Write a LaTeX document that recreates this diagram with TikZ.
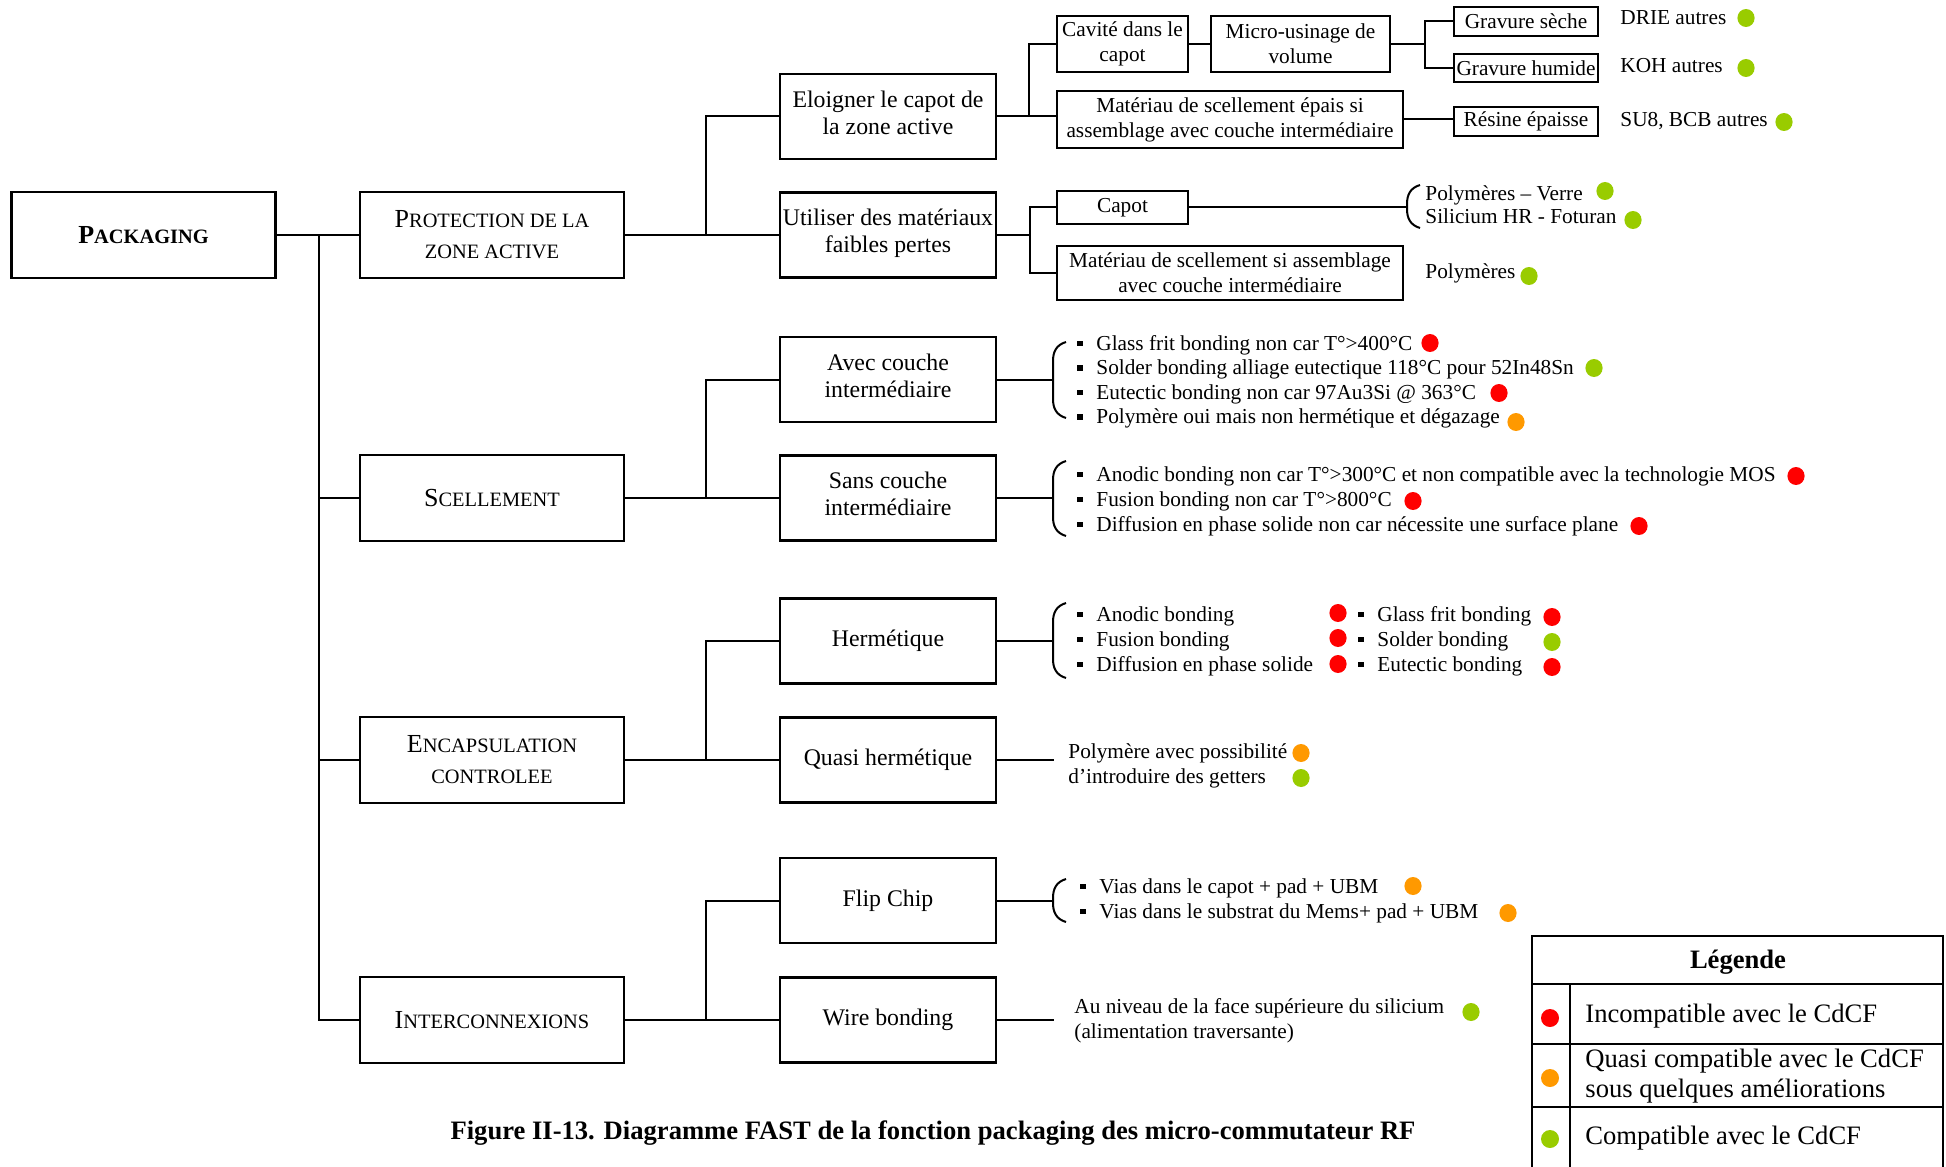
\documentclass[tikz,border=0pt]{standalone}
\usepackage{fontspec}
\setmainfont{Liberation Serif}
\usetikzlibrary{calc}
\definecolor{cred}{RGB}{255,0,0}
\definecolor{cgreen}{RGB}{153,204,0}
\definecolor{corange}{RGB}{255,153,0}
\newcommand\sca[1]{{\fontsize{10.2pt}{12pt}\selectfont #1}}
\newcommand\dotc[3]{\fill[#1] (#2,#3) ellipse [x radius=4.3pt, y radius=4.5pt];}
\newcommand\mybrace[3]{\draw[conn] ({#1+13},#2) .. controls ({#1+3},{#2+3}) and (#1,{#2+10}) .. (#1,{#2+19}) -- (#1,{#3-19}) .. controls (#1,{#3-10}) and ({#1+3},{#3-3}) .. ({#1+13},#3);}
\newcommand\bitem[4]{\node[txt] (#1) at (#2,#3) {#4};
  \fill ($(#1.west)+(-19,-4.5)$) rectangle ++(5.5,5.5);}
\begin{document}
\begin{tikzpicture}[x=0.5pt,y=-0.5pt,
  box/.style={draw, line width=1.2pt, inner sep=0pt, align=center},
  lvl1/.style={box, minimum width=132pt, minimum height=43pt, font=\fontsize{13pt}{15.5pt}\selectfont},
  lvl2/.style={box, minimum width=108pt, minimum height=42.5pt, font=\fontsize{11.9pt}{13.5pt}\selectfont},
  two/.style={text depth=4pt},
  lvl3/.style={box, font=\fontsize{10.65pt}{12.4pt}\selectfont},
  txt/.style={inner sep=0pt, anchor=west, font=\fontsize{10.65pt}{12.4pt}\selectfont, text height=7.3pt, text depth=2.3pt},
  conn/.style={line width=1pt},
  leg/.style={inner sep=0pt, font=\fontsize{13.3pt}{15pt}\selectfont, align=left},
]
\fill[white] (0,0) rectangle (1946,1166);
\useasboundingbox (0,0) rectangle (1946,1166);

% level 1
\node[lvl1, font=\bfseries\fontsize{13pt}{15.5pt}\selectfont] (pack) at (143.5,235) {P\sca{ACKAGING}};
\node[lvl1] (prot) at (492,235) {P\sca{ROTECTION DE LA}\\\sca{ZONE ACTIVE}};
\node[lvl1] (scel) at (492,498) {S\sca{CELLEMENT}};
\node[lvl1] (enc) at (492,760) {E\sca{NCAPSULATION}\\\sca{CONTROLEE}};
\node[lvl1] (inter) at (492,1020) {I\sca{NTERCONNEXIONS}};

% level 2
\node[lvl2, two] (elo) at (888,116.5) {Eloigner le capot de\\la zone active};
\node[lvl2, two] (util) at (888,235) {Utiliser des matériaux\\faibles pertes};
\node[lvl2, two] (avec) at (888,379.5) {Avec couche\\intermédiaire};
\node[lvl2, two] (sans) at (888,498) {Sans couche\\intermédiaire};
\node[lvl2] (herm) at (888,641) {Hermétique};
\node[lvl2] (quasi) at (888,760) {Quasi hermétique};
\node[lvl2] (flip) at (888,900.5) {Flip Chip};
\node[lvl2] (wire) at (888,1020) {Wire bonding};

% level 3
\node[lvl3, minimum width=65.5pt, minimum height=28pt] (cav) at (1122.5,44) {Cavité dans le\\capot};
\node[lvl3, minimum width=89.5pt, minimum height=28pt] (micro) at (1300.5,44) {Micro-usinage de\\volume};
\node[lvl3, minimum width=72pt, minimum height=14.5pt] (gs) at (1526,21.5) {Gravure sèche};
\node[lvl3, minimum width=72pt, minimum height=14pt] (gh) at (1526,68) {Gravure humide};
\node[lvl3, minimum width=173pt, minimum height=28.5pt] (mat1) at (1230,119.5) {Matériau de scellement épais si\\assemblage avec couche intermédiaire};
\node[lvl3, minimum width=72pt, minimum height=14.5pt] (res) at (1526,121.5) {Résine épaisse};
\node[lvl3, minimum width=65.5pt, minimum height=16.5pt] (capot) at (1122.5,207.5) {Capot};
\node[lvl3, minimum width=173pt, minimum height=27pt] (mat2) at (1230,273) {Matériau de scellement si assemblage\\avec couche intermédiaire};

% connectors level 0-1
\coordinate (jm) at (319,235);
\draw[conn] (pack.east) -- (prot.west);
\draw[conn] (jm) |- (scel.west);
\draw[conn] (jm) |- (enc.west);
\draw[conn] (jm) |- (inter.west);

% connectors level 1-2
\coordinate (jp) at (706,235);
\draw[conn] (prot.east) -- (util.west);
\draw[conn] (jp) |- (elo.west);
\coordinate (js) at (706,498);
\draw[conn] (scel.east) -- (sans.west);
\draw[conn] (js) |- (avec.west);
\coordinate (je) at (706,760);
\draw[conn] (enc.east) -- (quasi.west);
\draw[conn] (je) |- (herm.west);
\coordinate (ji) at (706,1020);
\draw[conn] (inter.east) -- (wire.west);
\draw[conn] (ji) |- (flip.west);

% connectors level 2-3
\coordinate (jelo) at ($(elo.east)+(32,0)$);
\draw[conn] (elo.east) -- (elo.east -| mat1.west);
\draw[conn] (jelo) |- (cav.west);
\draw[conn] (cav.east) -- (micro.west);
\coordinate (jmic) at ($(micro.east)+(34,0)$);
\draw[conn] (micro.east) -- (jmic);
\draw[conn] (jmic) |- (gs.west);
\draw[conn] (jmic) |- (gh.west);
\draw[conn] (mat1.east) -- (mat1.east -| res.west);
\coordinate (jut) at ($(util.east)+(33,0)$);
\draw[conn] (util.east) -- (jut);
\draw[conn] (jut) |- (capot.west);
\draw[conn] (jut) |- (mat2.west);
\coordinate (bcap) at (1407,207.5);
\draw[conn] (capot.east) -- (bcap);
\mybrace{1407}{185}{228}

\coordinate (bav) at ($(avec.east)+(57,0)$);
\draw[conn] (avec.east) -- (bav);
\mybrace{1053}{342}{418}
\coordinate (bsa) at ($(sans.east)+(57,0)$);
\draw[conn] (sans.east) -- (bsa);
\mybrace{1053}{461}{536}
\coordinate (bhe) at ($(herm.east)+(57,0)$);
\draw[conn] (herm.east) -- (bhe);
\mybrace{1053}{603}{678}
\coordinate (bqu) at ($(quasi.east)+(57,0)$);
\draw[conn] (quasi.east) -- (bqu);
\coordinate (bfl) at ($(flip.east)+(57,0)$);
\draw[conn] (flip.east) -- (bfl);
\mybrace{1053}{879}{922}
\coordinate (bwi) at ($(wire.east)+(57,0)$);
\draw[conn] (wire.east) -- (bwi);

% right texts
\node[txt] (drie) at (1620,20) {DRIE autres};
\node[txt] (koh) at (1620,68) {KOH autres};
\node[txt] (su8) at (1620,122) {SU8, BCB autres};
\node[txt] (pv) at (1425,195) {Polymères – Verre};
\node[txt] (sil) at (1425,219) {Silicium HR - Foturan};
\node[txt] (pol) at (1425,273) {Polymères};
\dotc{cgreen}{1746}{18}
\dotc{cgreen}{1746}{68}
\dotc{cgreen}{1784}{122}
\dotc{cgreen}{1605}{191}
\dotc{cgreen}{1633}{220}
\dotc{cgreen}{1529}{276}

% avec couche
\bitem{a1}{1096}{345}{Glass frit bonding non car T°>400°C}
\bitem{a2}{1096}{369.5}{Solder bonding alliage eutectique 118°C pour 52In48Sn}
\bitem{a3}{1096}{394}{Eutectic bonding non car 97Au3Si @ 363°C}
\bitem{a4}{1096}{418.5}{Polymère oui mais non hermétique et dégazage}
\dotc{cred}{1430}{343}
\dotc{cgreen}{1594}{368}
\dotc{cred}{1499}{393}
\dotc{corange}{1516}{422}

% sans couche
\bitem{s1}{1096}{476}{Anodic bonding non car T°>300°C et non compatible avec la technologie MOS}
\bitem{s2}{1096}{501}{Fusion bonding non car T°>800°C}
\bitem{s3}{1096}{526}{Diffusion en phase solide non car nécessite une surface plane}
\dotc{cred}{1796}{476}
\dotc{cred}{1413}{501}
\dotc{cred}{1639}{526}

% hermetique
\bitem{h1}{1096}{616}{Anodic bonding}
\bitem{h2}{1096}{641}{Fusion bonding}
\bitem{h3}{1096}{666}{Diffusion en phase solide}
\bitem{h4}{1377}{616}{Glass frit bonding}
\bitem{h5}{1377}{641}{Solder bonding}
\bitem{h6}{1377}{666}{Eutectic bonding}
\dotc{cred}{1338}{613}
\dotc{cred}{1338}{638}
\dotc{cred}{1338}{664}
\dotc{cred}{1552}{617}
\dotc{cgreen}{1552}{642}
\dotc{cred}{1552}{667}

% quasi
\node[txt] (q1) at (1068,753) {Polymère avec possibilité};
\node[txt] (q2) at (1068,778) {d’introduire des getters};
\dotc{corange}{1301}{753}
\dotc{cgreen}{1301}{778}

% flip chip
\bitem{f1}{1099}{888}{Vias dans le capot + pad + UBM}
\bitem{f2}{1099}{913}{Vias dans le substrat du Mems+ pad + UBM}
\dotc{corange}{1413}{886}
\dotc{corange}{1508}{913}

% wire bonding
\node[txt] (w1) at (1074,1008) {Au niveau de la face supérieure du silicium};
\node[txt] (w2) at (1074,1033) {(alimentation traversante)};
\dotc{cgreen}{1471}{1012}

% caption
\node[inner sep=0pt, font=\bfseries\fontsize{13.3pt}{15pt}\selectfont] (cap) at (933,1133) {Figure II-13. Diagramme FAST de la fonction packaging des micro-commutateur RF};

% legend
\draw[line width=1.2pt] (1532,1180) -- (1532,936) -- (1943,936) -- (1943,1180);
\draw[line width=1.2pt] (1532,984) -- (1943,984);
\draw[line width=1.2pt] (1532,1044) -- (1943,1044);
\draw[line width=1.2pt] (1532,1107) -- (1943,1107);
\draw[line width=1.2pt] (1570,984) -- (1570,1180);
\node[leg, font=\bfseries\fontsize{13.3pt}{15pt}\selectfont] (legt) at (1738,962) {Légende};
\node[leg, anchor=west] (l1) at (1585,1016) {Incompatible avec le CdCF};
\node[leg, anchor=west] (l2) at (1585,1076) {Quasi compatible avec le CdCF\\sous quelques améliorations};
\node[leg, anchor=west] (l3) at (1585,1138) {Compatible avec le CdCF};
\fill[cred] (1550,1018) circle [radius=4.5pt];
\fill[corange] (1550,1078) circle [radius=4.5pt];
\fill[cgreen] (1550,1139) circle [radius=4.5pt];
\end{tikzpicture}
\end{document}
